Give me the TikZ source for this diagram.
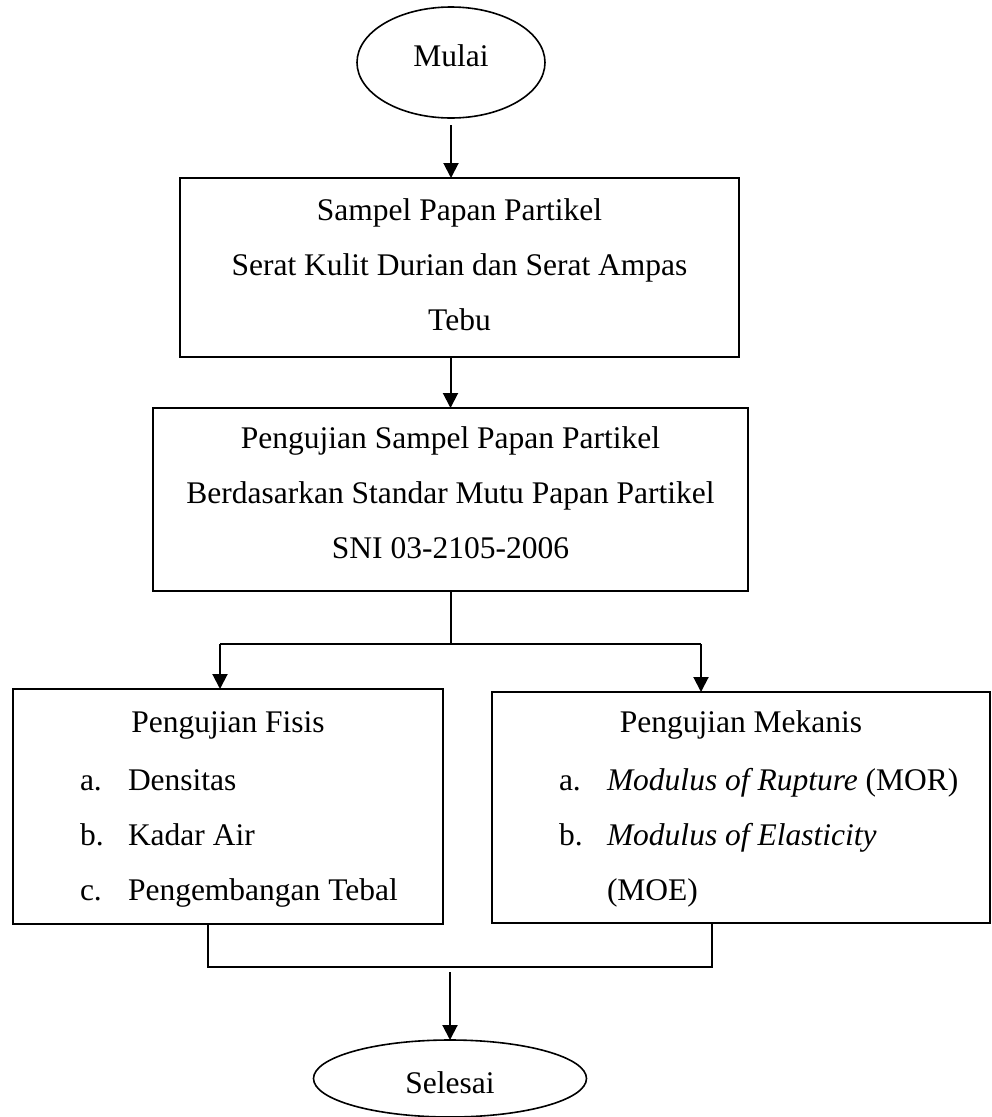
\documentclass[tikz,border=0pt]{standalone}
\usepackage{fontspec}
\setmainfont{Liberation Serif}
\usetikzlibrary{shapes.geometric,arrows.meta}
\begin{document}
\begin{tikzpicture}[x=1pt,y=-1pt,
  every node/.style={inner sep=0pt, outer sep=0pt},
  txt/.style={font=\fontsize{31.5}{55}\selectfont, anchor=base},
  txtl/.style={font=\fontsize{31.5}{55}\selectfont, anchor=base west},
  boxshape/.style={draw, line width=2pt, rectangle},
  ovalshape/.style={draw, line width=1.6pt, ellipse},
  conn/.style={line width=2pt},
  arr/.style={conn, -{Triangle[length=15pt,width=15pt]}}
]
\useasboundingbox (0,0) rectangle (992,1117);

% start
\node[ovalshape, minimum width=188pt, minimum height=111pt] (start) at (451,62.5) {};
\node[txt] (startt) at (451,66) {Mulai};

% box 1
\node[boxshape, minimum width=559pt, minimum height=179pt] (b1) at (459.5,267.5) {};
\node[txt] (b1l1) at (459.5,220) {Sampel Papan Partikel};
\node[txt] (b1l2) at (459.5,275) {Serat Kulit Durian dan Serat Ampas};
\node[txt] (b1l3) at (459.5,330) {Tebu};

% box 2
\node[boxshape, minimum width=595pt, minimum height=183pt] (b2) at (450.5,499.5) {};
\node[txt] (b2l1) at (450.5,448) {Pengujian Sampel Papan Partikel};
\node[txt] (b2l2) at (450.5,503) {Berdasarkan Standar Mutu Papan Partikel};
\node[txt] (b2l3) at (450.5,558) {SNI 03-2105-2006};

% left box
\node[boxshape, minimum width=430pt, minimum height=235pt] (fis) at (228,806.5) {};
\node[txt] (fish) at (228,732) {Pengujian Fisis};
\node[txtl] (fisa) at (80,790) {a.};
\node[txtl] (fisat) at (128,790) {Densitas};
\node[txtl] (fisb) at (80,845) {b.};
\node[txtl] (fisbt) at (128,845) {Kadar Air};
\node[txtl] (fisc) at (80,900) {c.};
\node[txtl] (fisct) at (128,900) {Pengembangan Tebal};

% right box
\node[boxshape, minimum width=498pt, minimum height=231pt] (mek) at (741,807.5) {};
\node[txt] (mekh) at (741,732) {Pengujian Mekanis};
\node[txtl] (meka) at (559,790) {a.};
\node[txtl] (mekat) at (607,790) {\textit{Modulus of Rupture} (MOR)};
\node[txtl] (mekb) at (559,845) {b.};
\node[txtl] (mekbt) at (607,845) {\textit{Modulus of Elasticity}};
\node[txtl] (mekbt2) at (607,900) {(MOE)};

% end
\node[ovalshape, minimum width=273pt, minimum height=77pt] (end) at (450,1078.5) {};
\node[txt] (endt) at (450,1093) {Selesai};

% connectors
\draw[arr, shorten <=7pt] (start.south) -- (start.south |- b1.north);
\draw[arr] (b1.south -| b2.north) -- (b2.north);

\coordinate (split) at (450.5,644);
\coordinate (sl) at (220,644);
\coordinate (sr) at (701,644);
\draw[conn] (b2.south) -- (split);
\draw[conn] (sl) -- (sr);
\draw[arr] (sl) -- (sl |- fis.north);
\draw[arr] (sr) -- (sr |- mek.north);

\coordinate (jl) at (208,967);
\coordinate (jr) at (712,967);
\draw[conn] (jl |- fis.south) -- (jl) -- (jr) -- (jr |- mek.south);
\coordinate (jm) at (450,972);
\draw[arr] (jm) -- (end.north);
\end{tikzpicture}
\end{document}
